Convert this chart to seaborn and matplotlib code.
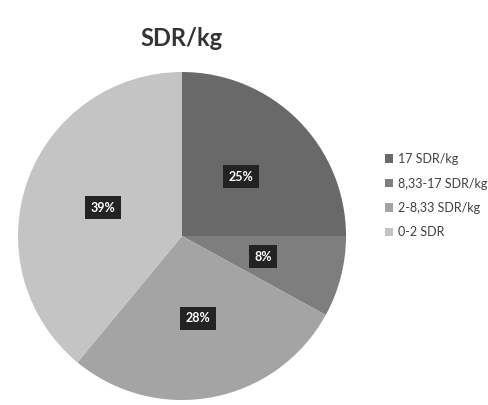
import matplotlib
matplotlib.use("Agg")
import matplotlib.pyplot as plt
import seaborn as sns

# chart data
categories = ["17 SDR/kg", "8,33-17 SDR/kg", "2-8,33 SDR/kg", "0-2 SDR"]
shares = [25, 8, 28, 39]
colors = ["#696969", "#7e7e7e", "#a4a4a4", "#c4c4c4"]

sns.set_style("white")
plt.rcParams['font.family'] = ['Lato', 'DejaVu Sans']

fig = plt.figure(figsize=(4.89, 4.05), dpi=100)
ax = fig.add_axes([0.0368, 0.0123, 0.6708, 0.8099])

wedges, texts, autotexts = ax.pie(
    shares, colors=colors, startangle=90, counterclock=False,
    autopct='%1.0f%%', pctdistance=0.51,
    wedgeprops=dict(linewidth=0),
    textprops=dict(color='white', fontsize=9, fontweight='bold'),
)
for t in autotexts:
    t.set_bbox(dict(boxstyle='square,pad=0.45', fc='#232323', ec='none'))
ax.set_xlim(-1, 1)
ax.set_ylim(-1, 1)
ax.set_aspect('equal')

fig.text(0.372, 0.905, "SDR/kg", ha='center', va='center',
         fontsize=17, fontweight='bold', color='#333333')

leg = fig.legend(wedges, categories, loc='upper left',
                 bbox_to_anchor=(0.765, 0.65), frameon=False,
                 handlelength=0.65, handleheight=0.65, handletextpad=0.35,
                 labelspacing=1.0, fontsize=9)
for t in leg.get_texts():
    t.set_color('#404040')

plt.savefig('out.png', dpi=100)
